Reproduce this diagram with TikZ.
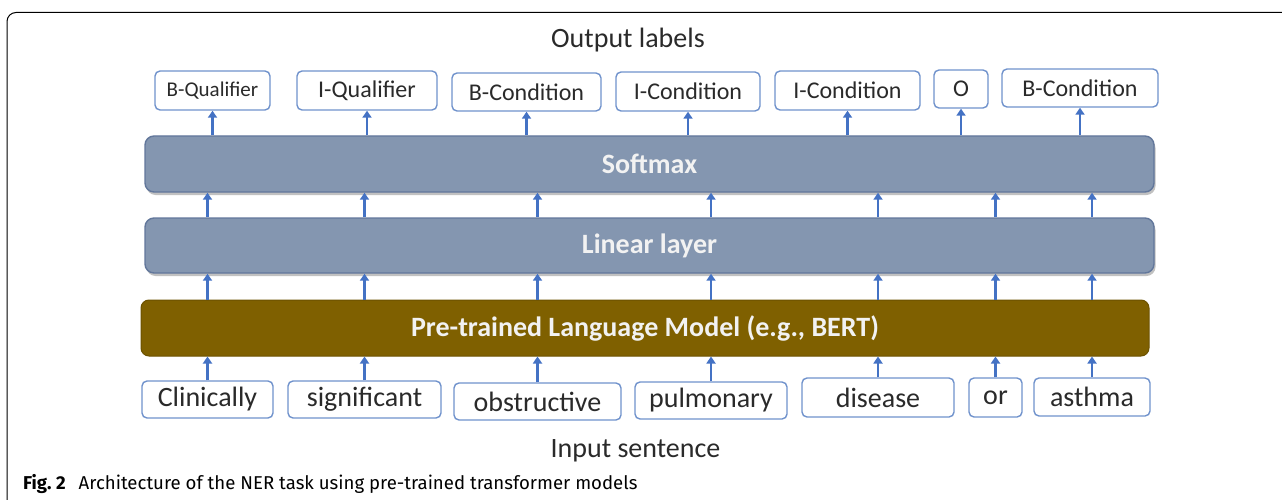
\documentclass[tikz,border=0pt]{standalone}
\usepackage{fontspec}
\setmainfont{Carlito}
\newfontfamily\capfont{Fira Sans}
\usetikzlibrary{arrows.meta,shadows,calc}
\definecolor{boxblue}{HTML}{7092CC}
\definecolor{arrblue}{HTML}{4472C4}
\definecolor{layerfill}{HTML}{8496B0}
\definecolor{layerdraw}{HTML}{62779B}
\definecolor{plmfill}{HTML}{7F6000}
\definecolor{txtdark}{HTML}{2A2A2A}
\definecolor{txtlight}{HTML}{F2F2F2}
\tikzset{
  wordbox/.style={draw=boxblue, line width=1.4pt, fill=white, rounded corners=5pt,
    inner sep=0pt, text=txtdark, font=\fontsize{28}{30}\selectfont},
  labbox/.style={wordbox, font=\fontsize{24}{26}\selectfont},
  layerbox/.style={draw=layerdraw, line width=1.4pt, fill=layerfill, rounded corners=9pt,
    inner sep=0pt, minimum width=1009pt, text=txtlight, font=\fontsize{28}{30}\selectfont\bfseries,
    drop shadow={shadow xshift=1.5pt, shadow yshift=-3pt, opacity=0.35, fill=black!70}},
  plmbox/.style={draw=plmfill!85!black, line width=1pt, fill=plmfill, rounded corners=8pt,
    inner sep=0pt, minimum width=1008pt, minimum height=56pt, text=txtlight,
    font=\fontsize{28}{30}\selectfont\bfseries},
  uparrow/.style={draw=arrblue, line width=2.6pt, -{Triangle[width=9pt,length=7pt]}},
  plain/.style={inner sep=0pt, text=txtdark, font=\fontsize{28}{30}\selectfont}
}
\begin{document}
\begin{tikzpicture}[x=1pt,y=-1pt]
\useasboundingbox (0,0) rectangle (1282,500);
% figure frame
\draw[line width=1pt, rounded corners=9pt] (7,502) -- (7,12.5) -- (1284,12.5);
% titles
\node[plain, anchor=base] (outtitle) at (628,48) {Output labels};
\node[plain, anchor=base] (intitle) at (635.5,457) {Input sentence};
% output labels
\node[labbox, minimum width=115pt, minimum height=39pt, font=\fontsize{21}{23}\selectfont] (o1) at (212.5,90.5) {B-Qualifier};
\node[labbox, minimum width=140pt, minimum height=39pt] (o2) at (367,90.5) {I-Qualifier};
\node[labbox, minimum width=149pt, minimum height=38pt] (o3) at (526.5,92) {B-Condition};
\node[labbox, minimum width=144pt, minimum height=39pt] (o4) at (688,91.5) {I-Condition};
\node[labbox, minimum width=145pt, minimum height=39pt] (o5) at (847.5,90.5) {I-Condition};
\node[labbox, minimum width=54pt, minimum height=38pt] (o6) at (961,89) {O};
\node[labbox, minimum width=156pt, minimum height=38pt] (o7) at (1080,88) {B-Condition};
% layers
\node[layerbox, minimum height=56pt] (sm) at (649.5,164) {Softmax};
\node[layerbox, minimum height=55pt] (lin) at (649.5,245.5) {Linear layer};
\node[plmbox] (plm) at (645,328) {Pre-trained Language Model (e.g., BERT)};
% input words
\node[wordbox, minimum width=131pt, minimum height=37pt] (i1) at (207.5,399.5) {Clinically};
\node[wordbox, minimum width=153pt, minimum height=37pt] (i2) at (364.5,399.5) {significant};
\node[wordbox, minimum width=167pt, minimum height=37pt] (i3) at (537.5,401.5) {obstructive};
\node[wordbox, minimum width=152pt, minimum height=37pt] (i4) at (711,400.5) {pulmonary};
\node[wordbox, minimum width=152pt, minimum height=39pt] (i5) at (878,397.5) {disease};
\node[wordbox, minimum width=53pt, minimum height=39pt] (i6) at (995.5,397.5) {or};
\node[wordbox, minimum width=116pt, minimum height=38pt] (i7) at (1092,397) {asthma};
% arrows
\foreach \k in {1,...,7}{
  \draw[uparrow] (i\k.north) -- (plm.south -| i\k.north);
  \draw[uparrow] (plm.north -| i\k.north) -- (lin.south -| i\k.north);
  \draw[uparrow] (lin.north -| i\k.north) -- (sm.south -| i\k.north);
  \draw[uparrow] (sm.north -| o\k.south) -- (o\k.south);
}
% caption
\node[anchor=base west, inner sep=0pt, font=\capfont\fontsize{18.6}{20}\selectfont] (cap) at (23,489)
  {\textbf{Fig.~2}\hspace{0.7em}Architecture of the NER task using pre-trained transformer models};
\end{tikzpicture}
\end{document}
